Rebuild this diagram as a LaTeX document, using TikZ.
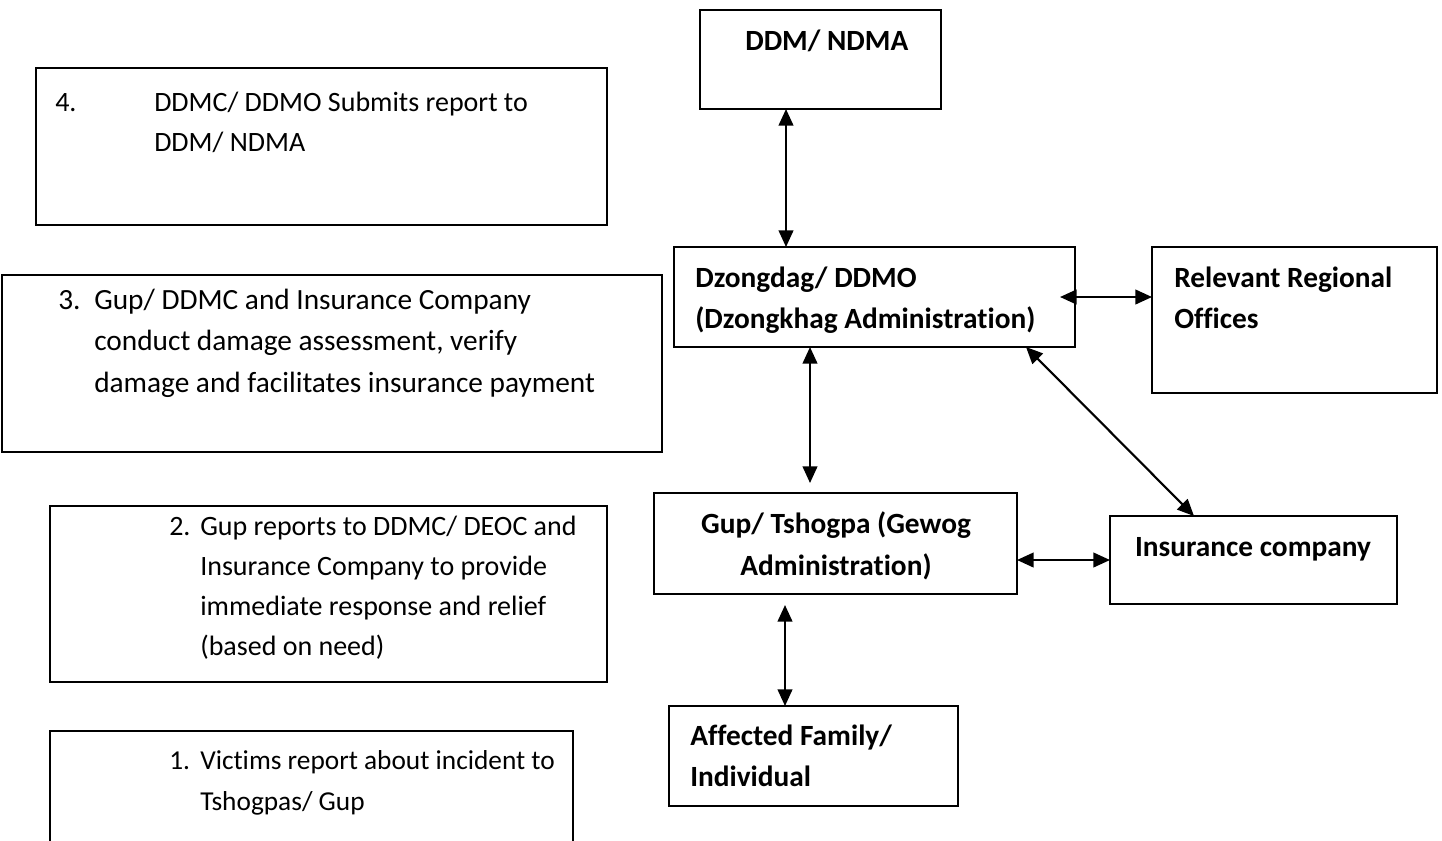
\documentclass[tikz,border=0pt]{standalone}
\usepackage{fontspec}
\setmainfont{Carlito}[Ligatures=NoCommon]
\usetikzlibrary{arrows.meta,fit,calc}
\begin{document}
\begin{tikzpicture}[x=0.75pt,y=-0.75pt,
  box/.style={draw=black, line width=1.5pt, inner sep=0pt, outer sep=0pt, rectangle},
  txt/.style={font=\fontsize{22}{30.9}\selectfont, inner sep=0pt, anchor=base west},
  stxt/.style={txt, font=\fontsize{21}{29.5}\selectfont},
  smtxt/.style={txt, font=\fontsize{20.5}{28.5}\selectfont},
  btxt/.style={txt, font=\fontsize{22}{30.9}\selectfont\bfseries},
  ctxt/.style={btxt, anchor=base},
  dbl/.style={line width=1.6pt,
    {Triangle[length=12.5pt,width=11pt]}-{Triangle[length=12.5pt,width=11pt]}}]
\useasboundingbox (0,0) rectangle (1442,840);
\fill[white] (0,0) rectangle (1442,840);
\clip (0,0) rectangle (1442,840);

% step boxes on the left
\node[box, fit={(36,68) (607,225)}] (b4) {};
\node[box, fit={(2,275) (662,452)}] (b3) {};
\node[box, fit={(50,506) (607,682)}] (b2) {};
\node[box, fit={(50,731) (573,850)}] (b1) {};

\node[stxt] (t4n) at (55,111) {4.};
\node[stxt] (t4a) at (154,111) {DDMC/ DDMO Submits report to};
\node[stxt] (t4b) at (154,151) {DDM/ NDMA};

\node[txt] (t3n) at (58,309) {3.};
\node[txt] (t3a) at (94,309) {Gup/ DDMC and Insurance Company};
\node[txt] (t3b) at (94,350) {conduct damage assessment, verify};
\node[txt] (t3c) at (94,392) {damage and facilitates insurance payment};

\node[stxt] (t2n) at (169,535) {2.};
\node[stxt] (t2a) at (200,535) {Gup reports to DDMC/ DEOC and};
\node[stxt] (t2b) at (200,575) {Insurance Company to provide};
\node[stxt] (t2c) at (200,615) {immediate response and relief};
\node[stxt] (t2d) at (200,655) {(based on need)};

\node[smtxt] (t1n) at (169,769) {1.};
\node[smtxt] (t1a) at (200,769) {Victims report about incident to};
\node[smtxt] (t1b) at (200,810) {Tshogpas/ Gup};

% organisation boxes on the right
\node[box, fit={(700,10) (941,109)}] (ddm) {};
\node[box, fit={(674,247) (1075,347)}] (dz) {};
\node[box, fit={(1152,247) (1437,393)}] (rel) {};
\node[box, fit={(654,493) (1017,594)}] (gup) {};
\node[box, fit={(1110,516) (1397,604)}] (ins) {};
\node[box, fit={(669,706) (958,806)}] (aff) {};

\node[btxt] (tddm) at (745,50) {DDM/ NDMA};
\node[btxt] (tdz1) at (695,287) {Dzongdag/ DDMO};
\node[btxt] (tdz2) at (695,328) {(Dzongkhag Administration)};
\node[btxt] (trel1) at (1174,287) {Relevant Regional};
\node[btxt] (trel2) at (1174,328) {Offices};
\node[ctxt] (tgup1) at (836,533) {Gup/ Tshogpa (Gewog};
\node[ctxt] (tgup2) at (836,575) {Administration)};
\node[ctxt] (tins) at (1253,556) {Insurance company};
\node[btxt] (taff1) at (690,745) {Affected Family/};
\node[btxt] (taff2) at (690,786) {Individual};

% two-way links
\coordinate (xa) at (786,0);
\coordinate (ya) at (0,297);
\coordinate (xb) at (810,0);
\coordinate (xc) at (1026,0);
\coordinate (xd) at (1194,0);
\coordinate (yb) at (0,560);
\coordinate (xe) at (785,0);

\draw[dbl] (ddm.south -| xa) -- (dz.north -| xa);
\draw[dbl] ($(dz.east |- ya)+(-15,0)$) -- (rel.west |- ya);
\draw[dbl] (dz.south -| xb) -- ($(gup.north -| xb)+(0,-10)$);
\draw[dbl] (dz.south -| xc) -- (ins.north -| xd);
\draw[dbl] (gup.east |- yb) -- (ins.west |- yb);
\draw[dbl] ($(gup.south -| xe)+(0,11)$) -- (aff.north -| xe);
\end{tikzpicture}
\end{document}
